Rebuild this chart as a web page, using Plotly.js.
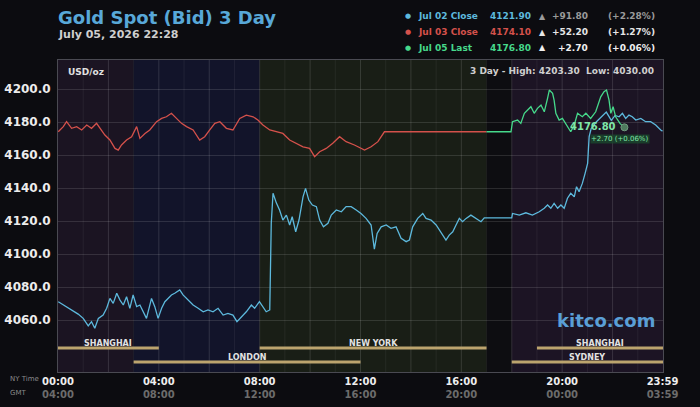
<!DOCTYPE html>
<html>
<head>
<meta charset="utf-8">
<script src="https://cdn.plot.ly/plotly-3.0.1.min.js"></script>
<style>
html,body{margin:0;padding:0;background:#0c0c10;}
#chart{width:700px;height:407px;}
</style>
</head>
<body>
<div id="chart"></div>
<script>
// ---- DATA ----
const hoursJul02 = [0.01,0.21,0.41,0.61,0.80,1.00,1.20,1.33,1.46,1.60,1.79,1.93,2.06,2.19,2.33,2.46,2.59,2.72,2.85,2.98,3.12,3.25,3.38,3.51,3.71,3.84,3.97,4.11,4.24,4.37,4.50,4.63,4.83,4.96,5.16,5.36,5.56,5.76,5.95,6.15,6.35,6.55,6.74,6.94,7.10,7.28,7.47,7.67,7.80,7.99,8.13,8.26,8.40,
  8.46,8.53,8.66,8.79,8.92,9.06,9.19,9.29,9.43,9.56,9.72,9.82,9.95,10.09,10.25,10.38,10.53,10.71,10.84,11.04,11.24,11.43,11.63,11.83,12.02,12.22,12.42,12.55,12.66,12.82,13.02,13.21,13.41,13.61,13.81,13.94,14.07,14.27,14.47,14.60,14.80,15.00,15.19,15.39,15.52,15.66,15.79,15.92,16.05,16.19,16.38,16.58,16.78,16.91,18.00,
  18.03,18.30,18.56,18.82,19.09,19.29,19.42,19.55,19.68,19.82,19.95,20.08,20.21,20.34,20.48,20.57,20.67,20.80,20.91,21.01,21.07,21.15,21.35,21.55,21.75,21.95,22.10,22.26,22.39,22.52,22.65,22.78,22.92,23.12,23.31,23.51,23.71,23.91,23.98];
const pricesJul02 = [4071.1,4069.1,4067.1,4065.0,4063.6,4061.0,4056.4,4059.0,4055.0,4061.0,4063.0,4067.1,4073.1,4070.1,4076.2,4072.1,4069.1,4074.1,4067.1,4075.2,4068.1,4069.1,4065.0,4061.0,4073.1,4068.1,4061.0,4067.1,4071.1,4073.1,4075.2,4076.2,4078.2,4075.2,4072.1,4069.1,4067.1,4065.0,4066.1,4065.0,4067.1,4063.0,4064.0,4063.0,4059.0,4062.0,4065.0,4069.1,4067.1,4071.1,4068.1,4065.0,4066.1,
  4118.6,4136.8,4131.0,4126.7,4120.6,4123.6,4117.6,4122.6,4113.5,4120.6,4134.7,4139.8,4132.7,4129.7,4128.7,4120.6,4116.5,4118.6,4123.6,4126.7,4125.6,4128.7,4128.7,4126.7,4124.6,4121.6,4117.6,4103.0,4112.5,4116.5,4117.6,4115.6,4116.5,4109.5,4107.5,4108.5,4116.5,4121.6,4124.6,4121.6,4120.6,4117.6,4113.5,4108.5,4111.5,4113.5,4117.6,4121.6,4119.6,4121.6,4123.6,4121.6,4119.6,4121.9,4121.9,
  4124.6,4123.6,4125.0,4123.6,4125.6,4127.7,4129.7,4127.7,4130.7,4127.7,4129.7,4127.7,4133.8,4136.8,4134.7,4140.8,4137.8,4142.8,4148.9,4155.0,4171.1,4176.0,4180.0,4183.0,4186.0,4181.0,4184.0,4183.2,4185.3,4182.2,4184.2,4183.2,4181.2,4182.2,4180.2,4180.2,4178.2,4175.2,4174.5];

const hoursJul03 = [0.01,0.21,0.34,0.54,0.74,0.94,1.14,1.33,1.53,1.66,1.86,2.06,2.26,2.39,2.52,2.72,2.92,3.12,3.25,3.45,3.64,3.91,4.11,4.30,4.50,4.70,4.90,5.10,5.36,5.62,5.82,6.02,6.22,6.42,6.68,6.94,7.21,7.47,7.74,7.93,8.13,8.40,8.66,8.92,9.19,9.45,9.72,9.98,10.18,10.38,10.64,10.90,11.17,11.43,11.76,12.16,12.42,12.69,12.95,17.00];
const pricesJul03 = [4174.1,4177.2,4180.2,4176.2,4177.2,4175.2,4178.2,4176.2,4179.2,4176.2,4172.1,4169.1,4164.0,4163.0,4166.1,4169.1,4171.1,4177.2,4170.1,4173.1,4175.2,4180.2,4182.2,4183.2,4185.3,4182.2,4179.2,4177.2,4175.2,4169.1,4171.1,4175.2,4179.2,4180.2,4176.2,4175.2,4182.2,4184.2,4183.2,4181.2,4178.2,4175.2,4174.1,4173.1,4169.1,4167.1,4165.0,4164.0,4159.0,4162.0,4164.0,4167.1,4171.1,4168.1,4166.1,4163.0,4165.0,4168.1,4174.1,4174.1];

const hoursJul05 = [17.00,17.97,18.03,18.23,18.36,18.50,18.63,18.76,18.89,19.02,19.16,19.29,19.42,19.49,19.62,19.68,19.75,19.88,20.01,20.21,20.34,20.48,20.61,20.80,20.94,21.13,21.33,21.53,21.66,21.76,21.86,21.93,22.02,22.12,22.30,22.47];
const pricesJul05 = [4174.1,4174.1,4180.2,4181.2,4179.2,4185.3,4187.3,4189.3,4185.3,4188.3,4190.3,4186.2,4194.4,4199.4,4197.4,4193.3,4185.3,4181.2,4182.2,4177.2,4174.1,4178.2,4185.3,4183.2,4185.3,4182.2,4186.2,4195.3,4198.4,4199.4,4193.3,4185.3,4189.3,4183.2,4179.0,4176.8];

const seriesNames = ['Jul 02 Close','Jul 03 Close','Jul 05 Last'];
const seriesLast = ['4121.90','4174.10','4176.80'];
const seriesChange = ['+91.80','+52.20','+2.70'];
const seriesPct = ['(+2.28%)','(+1.27%)','(+0.06%)'];

const lastHour = 22.47;
const lastPrice = 4176.80;
const lastLabel = '4176.80';
const lastChangeLabel = '+2.70 (+0.06%)';

const sessionNames = ['SHANGHAI','LONDON','NEW YORK','SHANGHAI','SYDNEY'];
const sessionStart = [0,3,8,19,18];
const sessionEnd = [4,12,17,24,24];
const sessionRow = [0,1,0,0,1];

const xTickHours = [0,4,8,12,16,20,23.983];
const xTickNY = ['00:00','04:00','08:00','12:00','16:00','20:00','23:59'];
const xTickGMT = ['04:00','08:00','12:00','16:00','20:00','00:00','03:59'];
const yTicks = [4060,4080,4100,4120,4140,4160,4180,4200];

const bandStart = [0,3,8,17,18];
const bandEnd = [3,8,17,18,24];

const titleText = 'Gold Spot (Bid) 3 Day';
const subtitleText = 'July 05, 2026 22:28';
const unitText = 'USD/oz';
const rangeText = '3 Day - High: 4203.30  Low: 4030.00';

// ---- STYLE ----
const FONT = 'DejaVu Sans, Verdana, sans-serif';
const colors = ['#5db9dd','#d4514b','#46d98b'];
const changeColors = ['#9a9a9a','#e6e6e6','#f0f0f0'];
const bandColors = ['#1b1422','#12142a','#191e16','#0d0d11','#1c1424'];

const W = 605, H = 312, L = 58, T = 60;
const px = X => (X - L) / W;
const py = Y => (T + H - Y) / H;

const traces = [
  {x: hoursJul02, y: pricesJul02, type:'scatter', mode:'lines', line:{color:colors[0], width:1.3}, hoverinfo:'skip'},
  {x: hoursJul03, y: pricesJul03, type:'scatter', mode:'lines', line:{color:colors[1], width:1.3}, hoverinfo:'skip'},
  {x: hoursJul05, y: pricesJul05, type:'scatter', mode:'lines', line:{color:colors[2], width:1.3}, hoverinfo:'skip'},
  {x: [lastHour], y: [lastPrice], type:'scatter', mode:'markers', marker:{color:'#4f7a5e', size:7, line:{color:'#6f9a7e', width:1}}, hoverinfo:'skip'}
];

const shapes = [];
bandStart.forEach((s,i) => shapes.push({type:'rect', layer:'below', xref:'x', yref:'paper', x0:s, x1:bandEnd[i], y0:0, y1:1, fillcolor:bandColors[i], line:{width:0}}));
for (let h = 1; h < 24; h++) {
  shapes.push({type:'line', layer:'below', xref:'x', yref:'paper', x0:h, x1:h, y0:0, y1:1,
    line:{color: h % 2 === 0 ? 'rgba(255,255,255,0.13)' : 'rgba(255,255,255,0.06)', width:1}});
}
const rowY = [py(348), py(362)];
sessionNames.forEach((n,i) => shapes.push({type:'line', layer:'above', xref:'x', yref:'paper', x0:sessionStart[i], x1:sessionEnd[i], y0:rowY[sessionRow[i]], y1:rowY[sessionRow[i]], line:{color:'#bca46e', width:3}}));

const annotations = [];
annotations.push({xref:'paper', yref:'paper', x:0, y:py(34), xanchor:'left', yanchor:'middle', xshift:-2, text:subtitleText, showarrow:false, font:{family:FONT, size:11, color:'#cfcfcf', weight:'bold'}});
const rowsY = [16, 32, 48];
seriesNames.forEach((n,i) => {
  const y = py(rowsY[i]);
  annotations.push({xref:'paper', yref:'paper', x:px(408), y:y, xanchor:'center', yanchor:'middle', text:'●', showarrow:false, font:{family:FONT, size:7, color:colors[i]}});
  annotations.push({xref:'paper', yref:'paper', x:px(416), y:y, xanchor:'left', yanchor:'middle', text:n, showarrow:false, font:{family:FONT, size:9, color:colors[i], weight:'bold'}});
  annotations.push({xref:'paper', yref:'paper', x:px(488), y:y, xanchor:'left', yanchor:'middle', text:seriesLast[i], showarrow:false, font:{family:FONT, size:9, color:colors[i], weight:'bold'}});
  annotations.push({xref:'paper', yref:'paper', x:px(542), y:y, xanchor:'center', yanchor:'middle', text:'▲', showarrow:false, font:{family:FONT, size:8, color:changeColors[i]}});
  annotations.push({xref:'paper', yref:'paper', x:px(590), y:y, xanchor:'right', yanchor:'middle', text:seriesChange[i], showarrow:false, font:{family:FONT, size:9, color:changeColors[i], weight:'bold'}});
  annotations.push({xref:'paper', yref:'paper', x:px(657), y:y, xanchor:'right', yanchor:'middle', text:seriesPct[i], showarrow:false, font:{family:FONT, size:9, color:changeColors[i], weight:'bold'}});
});
annotations.push({xref:'paper', yref:'paper', x:px(66), y:py(72), xanchor:'left', yanchor:'middle', text:unitText, showarrow:false, font:{family:FONT, size:9, color:'#e0e0e0', weight:'bold'}});
annotations.push({xref:'paper', yref:'paper', x:px(656), y:py(71), xanchor:'right', yanchor:'middle', text:rangeText, showarrow:false, font:{family:FONT, size:9, color:'#cfcfcf', weight:'bold'}});
annotations.push({xref:'paper', yref:'paper', x:px(657), y:py(320), xanchor:'right', yanchor:'middle', text:'kitco.com', showarrow:false, font:{family:FONT, size:18, color:'#5a9fd6', weight:'bold'}});
sessionNames.forEach((n,i) => annotations.push({xref:'x', yref:'paper', x:(sessionStart[i]+sessionEnd[i])/2, y:rowY[sessionRow[i]], xanchor:'center', yanchor:'bottom', yshift:-2, text:n, showarrow:false, font:{family:FONT, size:8, color:'#e2e2e2', weight:'bold'}}));
annotations.push({xref:'paper', yref:'paper', x:px(8), y:py(379), xanchor:'left', yanchor:'middle', text:'NY Time', showarrow:false, font:{family:FONT, size:7, color:'#8a8a8a'}});
annotations.push({xref:'paper', yref:'paper', x:px(8), y:py(393), xanchor:'left', yanchor:'middle', text:'GMT', showarrow:false, font:{family:FONT, size:7, color:'#8a8a8a'}});
annotations.push({xref:'x', yref:'y', x:lastHour, y:lastPrice, xanchor:'right', yanchor:'middle', xshift:-6, yshift:1, text:lastLabel, showarrow:false, font:{family:FONT, size:10, color:'#7fe6a8', weight:'bold'}});
annotations.push({xref:'x', yref:'y', x:lastHour, y:lastPrice, xanchor:'center', yanchor:'middle', xshift:-4, yshift:-12, text:lastChangeLabel, showarrow:false, bgcolor:'rgba(25,75,45,0.75)', borderpad:0, font:{family:FONT, size:7, color:'#7fe6a8'}});

const layout = {
  width:700, height:407,
  margin:{l:L, r:700-L-W, t:T, b:407-T-H, pad:0},
  paper_bgcolor:'#0c0c10',
  plot_bgcolor:'#0d0d11',
  showlegend:false,
  title:{text:titleText, x:L/700, xanchor:'left', xref:'container', y:1-18/407, yanchor:'middle', yref:'container',
    font:{family:FONT, size:18, color:'#58a8d8', weight:'bold'}},
  xaxis:{range:[0,24], tickmode:'array', tickvals:xTickHours,
    ticktext:xTickNY.map((t,i)=>t+'<br><span style="color:#6c6c6c">'+xTickGMT[i]+'</span>'),
    showgrid:false, zeroline:false, showline:true, mirror:true, linecolor:'#4a4a52', linewidth:1,
    ticks:'', tickfont:{family:FONT, size:10, color:'#eeeeee', weight:'bold'}, fixedrange:true},
  yaxis:{range:[4028.5,4217.6], tickmode:'array', tickvals:yTicks, tickformat:'.1f',
    showgrid:true, gridcolor:'rgba(255,255,255,0.12)', gridwidth:1, zeroline:false,
    showline:true, mirror:true, linecolor:'#4a4a52', linewidth:1,
    ticks:'outside', ticklen:4, tickcolor:'rgba(0,0,0,0)',
    tickfont:{family:FONT, size:12, color:'#ececec', weight:'bold'}, fixedrange:true},
  shapes:shapes,
  annotations:annotations
};

Plotly.newPlot('chart', traces, layout, {displayModeBar:false, staticPlot:true});
</script>
</body>
</html>
